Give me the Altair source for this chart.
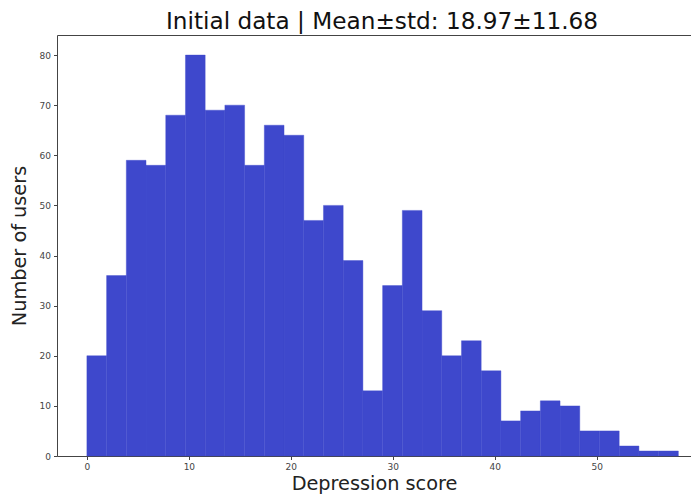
import altair as alt
import pandas as pd

# Histogram counts (30 equal-width bins over 0..58)
counts = [20, 36, 59, 58, 68, 80, 69, 70, 58, 66, 64, 47, 50, 39, 13,
          34, 49, 29, 20, 23, 17, 7, 9, 11, 10, 5, 5, 2, 1, 1]
score_min = 0.0
score_max = 58.0
x_ticks = [0, 10, 20, 30, 40, 50, 60]
y_ticks = [0, 10, 20, 30, 40, 50, 60, 70, 80]
title_text = "Initial data | Mean±std: 18.97±11.68"

n_bins = len(counts)
bw = (score_max - score_min) / n_bins
df = pd.DataFrame({
    "start": [score_min + i * bw for i in range(n_bins)],
    "end": [score_min + (i + 1) * bw for i in range(n_bins)],
    "count": counts,
    "base": [0] * n_bins,
})

FONT = "DejaVu Sans"
xscale = alt.Scale(domain=[-2.93, 59.24], nice=False, zero=False)
yscale = alt.Scale(domain=[0, 84], nice=False)

bars = alt.Chart(df).mark_bar(color="#3E48CC", stroke="#3E48CC", strokeWidth=0.4).encode(
    x=alt.X("start:Q", scale=xscale,
            axis=alt.Axis(values=x_ticks, title="Depression score", titlePadding=2.5)),
    x2="end:Q",
    y=alt.Y("count:Q", scale=yscale,
            axis=alt.Axis(values=y_ticks, title="Number of users", titlePadding=9.5)),
    y2="base:Q",
)

top = alt.Chart(df).mark_bar(opacity=0).encode(
    x=alt.X("start:Q", scale=xscale,
            axis=alt.Axis(orient="top", labels=False, ticks=False, title="")),
    x2="end:Q",
    y=alt.Y("count:Q", scale=yscale),
    y2="base:Q",
)

chart = alt.layer(bars, top).resolve_axis(x="independent").properties(
    width=634,
    height=421,
    autosize=alt.AutoSizeParams(type="none"),
    padding={"left": 49, "top": 27, "right": 0, "bottom": 38},
    title=alt.TitleParams(title_text, fontSize=23.2, font=FONT, fontWeight="normal",
                          color="#111111", anchor="middle", dx=8, dy=23.5, offset=6,
                          baseline="alphabetic"),
).configure_view(stroke="transparent").configure_axis(
    domainColor="#444444", domainWidth=1, tickColor="#444444", tickSize=3.5,
    labelFont=FONT, labelFontSize=9, labelColor="#444444", labelPadding=3,
    titleFont=FONT, titleFontSize=19.3, titleColor="#222222", titleFontWeight="normal",
    grid=False,
)

chart.save("out.html", embed_options={"renderer": "svg", "actions": False})
